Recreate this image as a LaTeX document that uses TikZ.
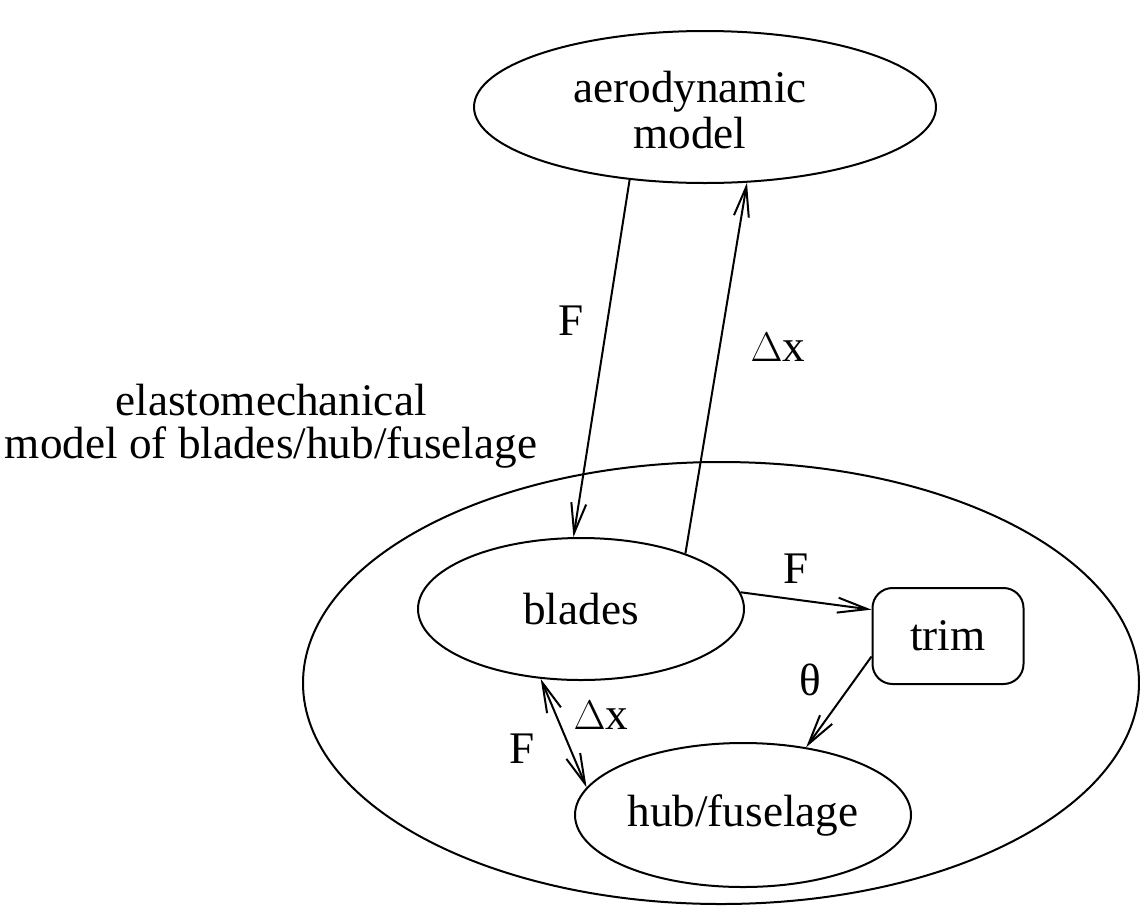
\documentclass[tikz,border=0pt]{standalone}
\usepackage{fontspec}
\setmainfont{Liberation Serif}
\usetikzlibrary{shapes.geometric,arrows.meta}
\begin{document}
\begin{tikzpicture}[x=0.5pt,y=-0.5pt,
  every node/.style={font=\fontsize{22.6}{23}\selectfont},
  model/.style={draw,ellipse,inner sep=0pt,line width=1pt,align=center},
  box/.style={draw,rectangle,rounded corners=10pt,inner sep=0pt,line width=1pt},
  flow/.style={line width=1pt,-{Straight Barb[length=15pt,width=7.5pt]}},
  both/.style={line width=1pt,{Straight Barb[length=15pt,width=7.5pt]}-{Straight Barb[length=15pt,width=7.5pt]}},
  lbl/.style={inner sep=0pt}]
\useasboundingbox (0,0) rectangle (1140,906);

% containers and models
\node[model,minimum width=418pt,minimum height=221pt] (elasto) at (721,683) {};
\node[model,minimum width=231pt,minimum height=76pt] (aero) at (705,107) {};
\node[lbl,align=center] (aerotxt) at (690,110) {aerodynamic\\model};
\node[model,minimum width=163pt,minimum height=71pt] (blades) at (581,609) {blades};
\node[model,minimum width=168pt,minimum height=72pt] (hub) at (743,815) {hub/fuselage};
\node[box,minimum width=75.5pt,minimum height=48pt] (trim) at (948,636) {trim};

\node[lbl,align=center,font=\fontsize{22.6}{21.5}\selectfont] (elastolbl) at (271,426) {elastomechanical\\model of blades/hub/fuselage};

% couplings
\draw[flow] (aero.224.6) -- (blades.96.3);
\draw[flow] (blades.28.3) -- (aero.299.4);
\draw[flow] (blades.6.7) -- (trim.161);
\draw[flow] (trim.195.4) -- (hub.47.9);
\draw[both] (blades.240.7) -- (hub.170.5);

% labels on the couplings
\node[lbl] (fup) at (571,321) {F};
\node[lbl] (dxup) at (778,347) {$\Delta$x};
\node[lbl] (ftrim) at (796,569) {F};
\node[lbl] (theta) at (810,680) {θ};
\node[lbl] (dxlow) at (601,715) {$\Delta$x};
\node[lbl] (flow) at (522,749) {F};
\end{tikzpicture}
\end{document}
